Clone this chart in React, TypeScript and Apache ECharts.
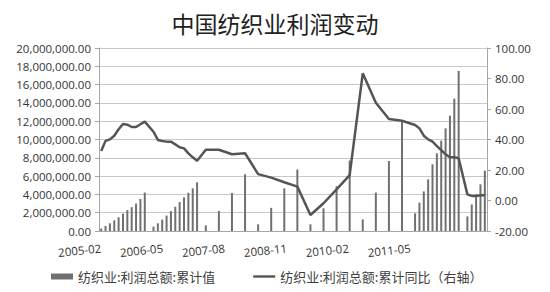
import React, { useEffect, useRef } from "react";
import * as echarts from "echarts";

// Monthly categories 2005-02 .. 2012-06
const startYear = 2005;
const startMonth = 2;
const monthCount = 89;
const categories: string[] = [];
for (let i = 0; i < monthCount; i++) {
  const m = startMonth - 1 + i;
  const y = startYear + Math.floor(m / 12);
  const mm = (m % 12) + 1;
  categories.push(`${y}-${mm < 10 ? "0" + mm : mm}`);
}
// Excel's date-axis labels sit on a slightly tighter pitch than the month slots
const labelStep = 15;
const labelSlots = 94;
const labelCategories: string[] = [];
for (let i = 0; i < labelSlots; i++) {
  labelCategories.push(i % labelStep === 0 && categories[i] ? categories[i] : "");
}

// 纺织业:利润总额:累计值 (left axis), by year
const cum2005 = [260000, 550000, 840000, 1170000, 1500000, 1900000, 2280000, 2600000, 3000000, 3500000, 4200000];
const cum2006 = [null, 480000, 840000, 1250000, 1690000, 2170000, 2640000, 3160000, 3670000, 4180000, 4660000, 5320000];
const cum2007 = [null, 620000, null, null, 2200000, null, null, 4150000, null, null, 6200000, null];
const cum2008 = [null, 730000, null, null, 2530000, null, null, 4660000, null, null, 6720000, null];
const cum2009 = [null, 730000, null, null, 2480000, null, null, 4900000, null, null, 7700000, null];
const cum2010 = [null, 1270000, null, null, 4200000, null, null, 7650000, null, null, 11950000, null];
const cum2011 = [null, 1930000, 3100000, 4330000, 5650000, 7290000, 8490000, 9870000, 11220000, 12600000, 14460000, 17500000];
const cum2012 = [null, 1600000, 2900000, 4000000, 5100000, 6600000];

// 纺织业:利润总额:累计同比 (right axis, %), by year
const yoy2005 = [32.5, 39.1, 40.1, 42.5, 46.7, 50.2, 49.7, 48.2, 48.2, 50.0, 51.7];
const yoy2006 = [null, 45.1, 39.7, 39.0, 38.6, 38.6, 36.8, 34.9, 34.2, 30.9, 28.3, 26.1];
const yoy2007 = [null, 33.3, null, null, 33.3, null, null, 30.3, null, null, 31.0, null];
const yoy2008 = [null, 17.3, null, null, 15.0, null, null, 12.0, null, null, 9.1, null];
const yoy2009 = [null, -9.5, null, null, -1.8, null, null, 7.3, null, null, 16.7, null];
const yoy2010 = [null, 83.4, null, null, 64.1, null, null, 53.4, null, null, 52.3, null];
const yoy2011 = [null, 49.5, 47.3, 42.5, 40.1, 38.6, 35.7, 33.1, 30.3, 28.3, 28.3, 27.7];
const yoy2012 = [null, 4.0, 3.0, 3.0, 3.5, 3.5];

const cumValues = [...cum2005, ...cum2006, ...cum2007, ...cum2008, ...cum2009, ...cum2010, ...cum2011, ...cum2012];
const yoyValues = [...yoy2005, ...yoy2006, ...yoy2007, ...yoy2008, ...yoy2009, ...yoy2010, ...yoy2011, ...yoy2012];

const titleText = "中国纺织业利润变动";
const barName = "纺织业:利润总额:累计值";
const lineName = "纺织业:利润总额:累计同比（右轴）";

const numFont = "Open Sans";
const cjkFont = "Noto Sans CJK SC";

function fmtLeft(v: number) {
  return v.toLocaleString("en-US", { minimumFractionDigits: 2, maximumFractionDigits: 2 });
}

export default function App() {
  const ref = useRef<HTMLDivElement>(null);
  useEffect(() => {
    if (!ref.current) return;
    const chart = echarts.init(ref.current, undefined, { renderer: "svg" });
    chart.setOption({
      animation: false,
      backgroundColor: "#ffffff",
      title: {
        text: titleText,
        left: "center",
        top: 6,
        textStyle: { fontFamily: cjkFont, fontSize: 23, fontWeight: "normal", color: "#222222" },
      },
      legend: {
        left: 46,
        top: 265,
        itemWidth: 22,
        itemHeight: 6,
        itemGap: 38,
        textStyle: { fontFamily: cjkFont, fontSize: 13, color: "#404040" },
        data: [
          { name: barName, icon: "rect" },
          { name: lineName, icon: "path://M0,0H22V2.4H0Z" },
        ],
      },
      grid: { left: 99, right: 63, top: 48, bottom: 61, containLabel: false },
      xAxis: [
        {
          type: "category",
          data: categories,
          position: "bottom",
          boundaryGap: true,
          axisLine: { lineStyle: { color: "#a6a6a6", width: 1 } },
          axisTick: { interval: 14, length: 4, lineStyle: { color: "#a6a6a6" } },
          axisLabel: { show: false },
          splitLine: { show: false },
        },
        {
          type: "category",
          data: labelCategories,
          position: "bottom",
          boundaryGap: true,
          axisLine: { show: false },
          axisTick: { show: false },
          axisLabel: {
            interval: 14,
            rotate: 6,
            margin: 17,
            fontFamily: numFont,
            fontSize: 11.5,
            color: "#333333",
          },
          splitLine: { show: false },
        },
      ],
      yAxis: [
        {
          type: "value",
          min: 0,
          max: 20000000,
          interval: 2000000,
          axisLine: { show: true, lineStyle: { color: "#a6a6a6" } },
          axisTick: { show: true, length: 4, lineStyle: { color: "#a6a6a6" } },
          axisLabel: {
            formatter: (v: number) => fmtLeft(v),
            fontFamily: numFont,
            fontSize: 11.5,
            color: "#333333",
            margin: 8,
          },
          splitLine: { show: true, lineStyle: { color: "#c8c8c8", width: 1 } },
        },
        {
          type: "value",
          min: -20,
          max: 100,
          interval: 20,
          position: "right",
          axisLine: { show: true, lineStyle: { color: "#a6a6a6" } },
          axisTick: { show: true, length: 4, lineStyle: { color: "#a6a6a6" } },
          axisLabel: {
            formatter: (v: number) => v.toFixed(2),
            fontFamily: numFont,
            fontSize: 11.5,
            color: "#333333",
            margin: 8,
          },
          splitLine: { show: false },
        },
      ],
      series: [
        {
          name: barName,
          type: "bar",
          xAxisIndex: 0,
          yAxisIndex: 0,
          data: cumValues,
          barWidth: 2,
          itemStyle: { color: "#707070" },
        },
        {
          name: lineName,
          type: "line",
          xAxisIndex: 0,
          yAxisIndex: 1,
          data: yoyValues,
          connectNulls: true,
          symbol: "none",
          lineStyle: { color: "#555555", width: 2.5 },
          itemStyle: { color: "#555555" },
        },
      ],
    });
    return () => chart.dispose();
  }, []);
  return (
    <div
      ref={ref}
      style={{ position: "fixed", left: 0, top: 0, width: 550, height: 292, background: "#fff" }}
    />
  );
}
